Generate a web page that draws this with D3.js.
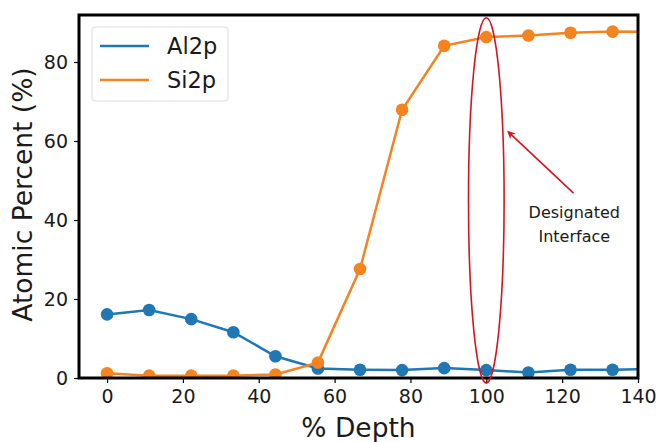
<!DOCTYPE html>
<html>
<head>
<meta charset="utf-8">
<script src="https://cdn.jsdelivr.net/npm/d3@7"></script>
<style>
  body { margin: 0; background: #fff; }
  .chart text { font-family: "DejaVu Sans", sans-serif; fill: #1a1a1a; }
</style>
</head>
<body>
<div class="chart"></div>
<script>
// data
const depth = [0, 11.1, 22.2, 33.3, 44.4, 55.6, 66.7, 77.8, 88.9, 100, 111.1, 122.2, 133.3, 144.4];
const al2p = [16.1, 17.2, 14.9, 11.6, 5.5, 2.4, 2.1, 2.0, 2.5, 2.0, 1.4, 2.1, 2.1, 2.3];
const si2p = [1.2, 0.6, 0.6, 0.6, 0.9, 3.9, 27.6, 67.9, 84.1, 86.3, 86.7, 87.4, 87.7, 87.6];
const xTicks = [0, 20, 40, 60, 80, 100, 120, 140];
const yTicks = [0, 20, 40, 60, 80];
const seriesNames = ['Al2p', 'Si2p'];
const colors = ['#1f77b4', '#f5831f'];

const W = 659, H = 442;
const margin = { top: 15, right: 21, bottom: 64, left: 79 };

const svg = d3.select('.chart').append('svg')
    .attr('width', W)
    .attr('height', H);

const x = d3.scaleLinear()
    .domain([-7.4, 140])
    .range([margin.left, W - margin.right]);
const y = d3.scaleLinear()
    .domain([0, 91.9])
    .range([H - margin.bottom, margin.top]);

svg.append('defs').append('clipPath').attr('id', 'clip')
    .append('rect')
    .attr('x', margin.left).attr('y', margin.top)
    .attr('width', W - margin.left - margin.right)
    .attr('height', H - margin.top - margin.bottom);

// axes
const xAxis = svg.append('g')
    .attr('transform', `translate(0,${H - margin.bottom})`)
    .call(d3.axisBottom(x).tickValues(xTicks).tickSize(5).tickPadding(7));
const yAxis = svg.append('g')
    .attr('transform', `translate(${margin.left},0)`)
    .call(d3.axisLeft(y).tickValues(yTicks).tickSize(5).tickPadding(6));
[xAxis, yAxis].forEach(a => {
    a.select('.domain').remove();
    a.selectAll('line').attr('stroke', '#000').attr('stroke-width', 1.2);
    a.selectAll('text').attr('font-size', 19).attr('font-family', 'DejaVu Sans').attr('fill', '#1a1a1a');
});

// series
const line = d3.line().x((d, i) => x(depth[i])).y(d => y(d));
const plot = svg.append('g').attr('clip-path', 'url(#clip)');
[al2p, si2p].forEach((s, k) => {
    plot.append('path')
        .datum(s)
        .attr('d', line)
        .attr('fill', 'none')
        .attr('stroke', colors[k])
        .attr('stroke-width', 2.5);
    plot.selectAll('.pt' + k)
        .data(s)
        .enter()
        .append('circle')
        .attr('cx', (d, i) => x(depth[i]))
        .attr('cy', d => y(d))
        .attr('r', 6.3)
        .attr('fill', colors[k]);
});

// frame
svg.append('rect')
    .attr('x', margin.left).attr('y', margin.top)
    .attr('width', W - margin.left - margin.right)
    .attr('height', H - margin.top - margin.bottom)
    .attr('fill', 'none')
    .attr('stroke', '#000')
    .attr('stroke-width', 3);

// axis titles
svg.append('text')
    .text('% Depth')
    .attr('x', (margin.left + W - margin.right) / 2)
    .attr('y', 437)
    .attr('text-anchor', 'middle')
    .attr('font-size', 26.5);
svg.append('text')
    .text('Atomic Percent (%)')
    .attr('transform', `translate(32,${(margin.top + H - margin.bottom) / 2 - 2}) rotate(-90)`)
    .attr('text-anchor', 'middle')
    .attr('font-size', 26.5);

// legend
const leg = svg.append('g').attr('transform', 'translate(92,27)');
leg.append('rect')
    .attr('width', 136).attr('height', 74)
    .attr('rx', 3)
    .attr('fill', '#fff')
    .attr('stroke', '#ddd');
seriesNames.forEach((n, k) => {
    leg.append('line')
        .attr('x1', 8).attr('x2', 57)
        .attr('y1', 19 + k * 34).attr('y2', 19 + k * 34)
        .attr('stroke', colors[k])
        .attr('stroke-width', 2.5);
    leg.append('text')
        .text(n)
        .attr('x', 75)
        .attr('y', 19 + k * 34)
        .attr('dy', '0.36em')
        .attr('font-size', 22.5);
});

// annotation: ellipse round the interface and arrow
const ann = { cx: 100, top: 91.2, bottom: -1.3, halfWidth: 4.7 };
svg.append('ellipse')
    .attr('cx', x(ann.cx))
    .attr('cy', (y(ann.top) + y(ann.bottom)) / 2)
    .attr('rx', x(ann.cx + ann.halfWidth) - x(ann.cx))
    .attr('ry', (y(ann.bottom) - y(ann.top)) / 2)
    .attr('fill', 'none')
    .attr('stroke', '#d7141f')
    .attr('stroke-width', 1.6);

svg.append('defs').append('marker')
    .attr('id', 'arrow')
    .attr('viewBox', '0 0 10 10')
    .attr('refX', 8).attr('refY', 5)
    .attr('markerWidth', 5).attr('markerHeight', 5)
    .attr('orient', 'auto')
    .append('path')
    .attr('d', 'M0,0 L10,5 L0,10 L3,5 z')
    .attr('fill', '#d7141f');

svg.append('line')
    .attr('x1', x(123)).attr('y1', y(46.8))
    .attr('x2', x(105.8)).attr('y2', y(62.3))
    .attr('stroke', '#d7141f')
    .attr('stroke-width', 1.6)
    .attr('marker-end', 'url(#arrow)');

['Designated', 'Interface'].forEach((t, i) => {
    svg.append('text')
        .text(t)
        .attr('x', x(123.2))
        .attr('y', y(40.5) + i * 24)
        .attr('text-anchor', 'middle')
        .attr('font-family', 'Open Sans')
        .attr('font-size', 16);
});
</script>
</body>
</html>
